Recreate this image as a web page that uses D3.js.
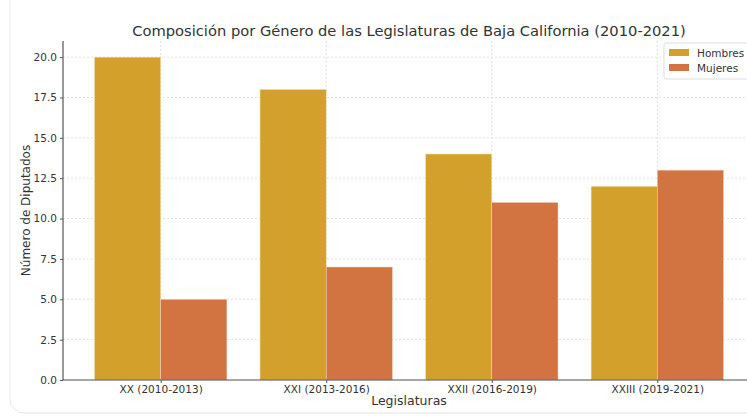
<!DOCTYPE html>
<html>
<head>
<meta charset="utf-8">
<script src="https://cdn.jsdelivr.net/npm/d3@7"></script>
<style>
  body { margin: 0; background: #fff; }
  svg { display: block; font-family: "DejaVu Sans", sans-serif; }
</style>
</head>
<body>
<div id="chart"></div>
<script>
// Data
const legislaturas = ['XX (2010-2013)', 'XXI (2013-2016)', 'XXII (2016-2019)', 'XXIII (2019-2021)'];
const hombres = [20, 18, 14, 12];
const mujeres = [5, 7, 11, 13];
const series = ['Hombres', 'Mujeres'];
const yTicks = [0, 2.5, 5, 7.5, 10, 12.5, 15, 17.5, 20];

const width = 747, height = 417;
const colors = { Hombres: '#d4a02c', Mujeres: '#d17442' };

const svg = d3.select('#chart').append('svg')
    .attr('width', width)
    .attr('height', height);

// faint frame around the screenshot
svg.append('rect')
    .attr('x', 10).attr('y', -20)
    .attr('width', 760).attr('height', 433)
    .attr('rx', 14)
    .attr('fill', 'none')
    .attr('stroke', '#e6e6e6');

const margin = { left: 63, top: 41, bottom: 380 };
const plotRight = 755;

// matplotlib-like x limits: bars span -0.4..3.4, plus 5% margin
const x = d3.scaleLinear().domain([-0.59, 3.59]).range([margin.left, plotRight]);
const step = x(1) - x(0);
const barW = step * 0.4;
const y = d3.scaleLinear().domain([0, 21]).range([margin.bottom, margin.top]);

// grid
svg.append('g').selectAll('line.hgrid')
    .data(yTicks)
    .join('line')
    .attr('x1', margin.left).attr('x2', plotRight)
    .attr('y1', d => y(d)).attr('y2', d => y(d))
    .attr('stroke', '#d9d9d9')
    .attr('stroke-width', 0.8)
    .attr('stroke-dasharray', '2,2');

svg.append('g').selectAll('line.vgrid')
    .data(legislaturas)
    .join('line')
    .attr('x1', (d, i) => x(i)).attr('x2', (d, i) => x(i))
    .attr('y1', margin.top).attr('y2', margin.bottom)
    .attr('stroke', '#d9d9d9')
    .attr('stroke-width', 0.8)
    .attr('stroke-dasharray', '2,2');

// bars
const bars = svg.append('g');
bars.selectAll('rect.h')
    .data(hombres)
    .join('rect')
    .attr('x', (d, i) => x(i) - barW)
    .attr('y', d => y(d))
    .attr('width', barW)
    .attr('height', d => y(0) - y(d))
    .attr('fill', colors.Hombres)
    .attr('stroke', '#f3e3c0')
    .attr('stroke-width', 0.5);

bars.selectAll('rect.m')
    .data(mujeres)
    .join('rect')
    .attr('x', (d, i) => x(i))
    .attr('y', d => y(d))
    .attr('width', barW)
    .attr('height', d => y(0) - y(d))
    .attr('fill', colors.Mujeres)
    .attr('stroke', '#f1d2c0')
    .attr('stroke-width', 0.5);

// axes
const yAxis = d3.axisLeft(y).tickValues(yTicks).tickFormat(d3.format('.1f')).tickSize(3).tickPadding(3);
const gy = svg.append('g')
    .attr('transform', `translate(${margin.left},0)`)
    .call(yAxis);

const xAxis = d3.axisBottom(x).tickValues(d3.range(legislaturas.length))
    .tickFormat(i => legislaturas[i]).tickSize(3).tickPadding(3);
const gx = svg.append('g')
    .attr('transform', `translate(0,${margin.bottom})`)
    .call(xAxis);

[gx, gy].forEach(g => {
    g.select('.domain').attr('stroke', '#555').attr('stroke-width', 1.2);
    g.selectAll('.tick line').attr('stroke', '#555');
    g.selectAll('.tick text').attr('fill', '#333').style('font-size', '10.5px')
        .style('font-family', '"DejaVu Sans", sans-serif');
});
gx.select('.domain').attr('d', `M${margin.left},0H${plotRight}`);
gy.select('.domain').attr('d', `M0,${margin.bottom}V${margin.top}`);

// labels
svg.append('text')
    .attr('x', (margin.left + plotRight) / 2)
    .attr('y', 36)
    .attr('text-anchor', 'middle')
    .attr('fill', '#333')
    .style('font-size', '14.7px')
    .text('Composición por Género de las Legislaturas de Baja California (2010-2021)');

svg.append('text')
    .attr('x', (margin.left + plotRight) / 2)
    .attr('y', 405)
    .attr('text-anchor', 'middle')
    .attr('fill', '#333')
    .style('font-size', '12.5px')
    .text('Legislaturas');

svg.append('text')
    .attr('transform', `translate(30,${(margin.top + margin.bottom) / 2}) rotate(-90)`)
    .attr('text-anchor', 'middle')
    .attr('fill', '#333')
    .style('font-size', '12px')
    .text('Número de Diputados');

// legend
const legend = svg.append('g').attr('transform', 'translate(664,43)');
legend.append('rect')
    .attr('width', 90).attr('height', 36)
    .attr('rx', 2)
    .attr('fill', 'rgba(255,255,255,0.8)')
    .attr('stroke', '#dddddd');
series.forEach((s, i) => {
    legend.append('rect')
        .attr('x', 5).attr('y', 6 + i * 15)
        .attr('width', 20).attr('height', 7)
        .attr('fill', colors[s]);
    legend.append('text')
        .attr('x', 33).attr('y', 13.5 + i * 15)
        .attr('fill', '#333')
        .style('font-size', '10.5px')
        .text(s);
});
</script>
</body>
</html>
